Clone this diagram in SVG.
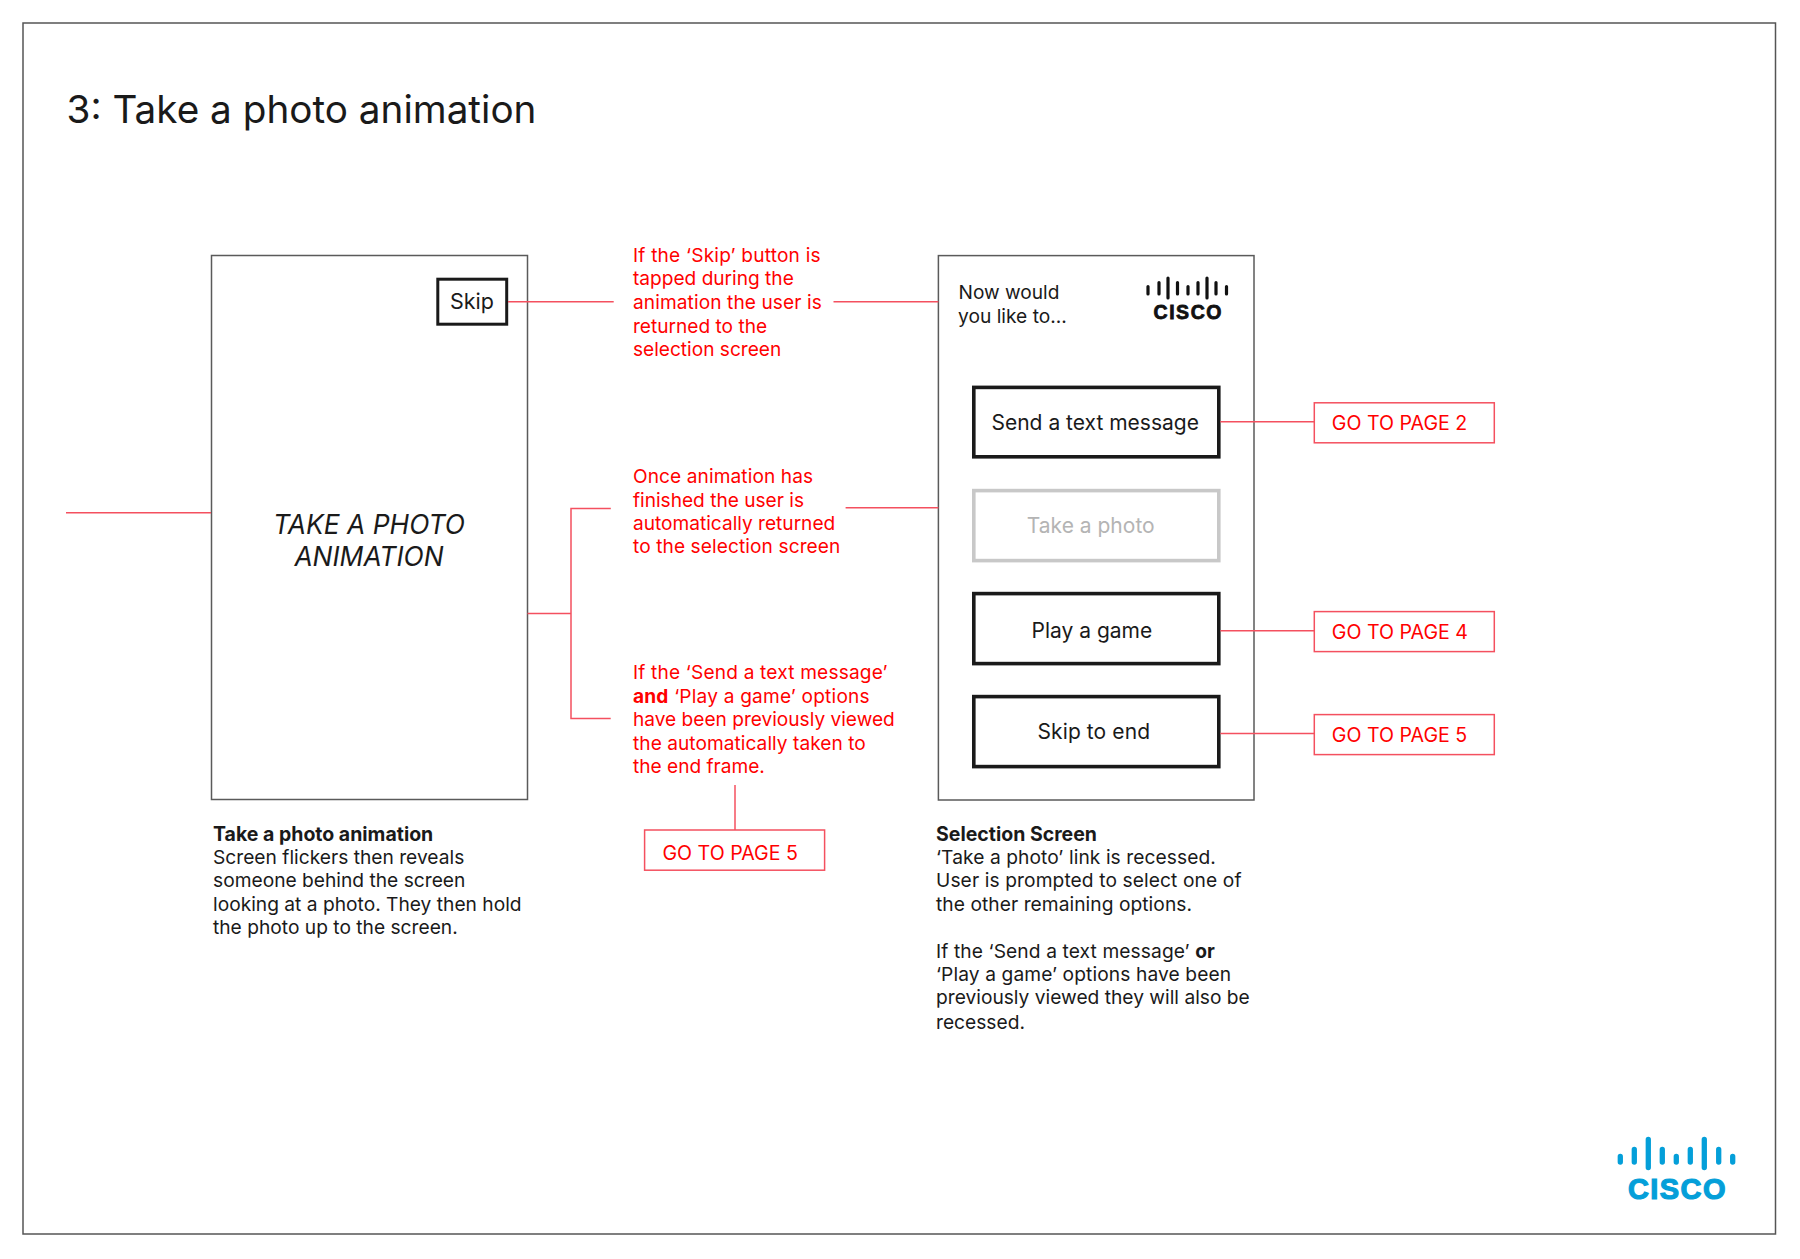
<svg xmlns="http://www.w3.org/2000/svg" width="1800" height="1259" viewBox="0 0 1800 1259">
<style>
text{font-family:"Inter","Liberation Sans",sans-serif;font-size:19.2px;fill:#1a1a1a}
.r{fill:#f00;font-size:19.1px}
.b{font-weight:700}
.h{font-weight:700;font-size:19.5px}
.frame{fill:#fff;stroke:#5a5a5a;stroke-width:1.5}
.btn{fill:#fff;stroke:#1a1a1a;stroke-width:3.6}
.off{fill:#fff;stroke:#c8c8c8;stroke-width:3.6}
.lbl{font-size:21px}
.go{fill:#fff;stroke:#f4505f;stroke-width:1.5}
.gt{fill:#f00;font-size:19.6px}
.c{fill:none;stroke:#f4505f;stroke-width:1.5}
.bar{fill:none;stroke-linecap:round}
.logo{font-family:"Liberation Sans",sans-serif;font-weight:700}
</style>
<rect id="page" x="23" y="23" width="1752.5" height="1211" fill="#fff" stroke="#555" stroke-width="1.5"/>
<text id="title" x="66.5" y="122.5" style="font-size:38.7px">3: Take a photo animation</text>
<g id="animation-screen">
<rect class="frame" x="211.5" y="255.5" width="316" height="544"/>
<text x="369" y="533.5" text-anchor="middle" style="font-style:italic;font-size:26.4px">TAKE A PHOTO</text>
<text x="369" y="565.7" text-anchor="middle" style="font-style:italic;font-size:26.4px">ANIMATION</text>
</g>
<g id="skip">
<rect x="437.8" y="279.2" width="68.9" height="45" fill="#fff" stroke="#1a1a1a" stroke-width="3"/>
<text class="lbl" x="450" y="309.4" style="font-size:21.5px">Skip</text>
</g>
<g id="note-skip">
<text class="r" x="633" y="262" style="letter-spacing:.2px">If the ‘Skip’ button is</text>
<text class="r" x="633" y="285.2">tapped during the</text>
<text class="r" x="633" y="309" style="letter-spacing:.1px">animation the user is</text>
<text class="r" x="633" y="332.5">returned to the</text>
<text class="r" x="633" y="356.3">selection screen</text>
</g>
<g id="note-once">
<text class="r" x="633" y="483" style="letter-spacing:.1px">Once animation has</text>
<text class="r" x="633" y="506.5">finished the user is</text>
<text class="r" x="633" y="530">automatically returned</text>
<text class="r" x="633" y="553.2" style="letter-spacing:.1px">to the selection screen</text>
</g>
<g id="note-send">
<text class="r" x="633" y="679" style="letter-spacing:.18px">If the ‘Send a text message’</text>
<text class="r" x="633" y="702.5" style="letter-spacing:.2px"><tspan class="r b">and</tspan> ‘Play a game’ options</text>
<text class="r" x="633" y="726">have been previously viewed</text>
<text class="r" x="633" y="749.5" style="letter-spacing:.05px">the automatically taken to</text>
<text class="r" x="633" y="773">the end frame.</text>
</g>
<g id="go5-a">
<rect class="go" x="644.6" y="830" width="180" height="40.2"/>
<text class="gt" x="662.5" y="860">GO TO PAGE 5</text>
</g>
<g id="selection-screen">
<rect class="frame" x="938.4" y="255.6" width="315.6" height="544.4"/>
<text x="958.5" y="299" style="font-size:19.1px">Now would</text>
<text x="958" y="323" style="font-size:19.2px">you like to...</text>
<g id="logo-small" class="bar" stroke="#111" stroke-width="3.2">
<path d="M1148 286.5V294M1159 282.5V294M1168 278V298M1177.5 282.5V294M1188 286.5V294M1198 282.5V294M1207 278V298M1216 282.5V294M1226.5 286.5V294"/>
</g>
<text class="logo" x="1153.5" y="318.8" textLength="68" lengthAdjust="spacing" style="font-size:19.5px;fill:#111;stroke:#111;stroke-width:.8">CISCO</text>
</g>
<g id="btn-send">
<rect class="btn" x="973.8" y="387.4" width="245" height="69.4"/>
<text class="lbl" x="991.5" y="429.8">Send a text message</text>
</g>
<g id="btn-photo">
<rect class="off" x="973.8" y="490.6" width="245" height="70"/>
<text class="lbl" x="1026.8" y="533" style="fill:#b4b4b4">Take a photo</text>
</g>
<g id="btn-game">
<rect class="btn" x="973.8" y="593.6" width="245" height="70"/>
<text class="lbl" x="1031.5" y="637.6">Play a game</text>
</g>
<g id="btn-skip">
<rect class="btn" x="973.8" y="696.6" width="245" height="70"/>
<text class="lbl" x="1037.5" y="739.4" style="letter-spacing:.1px">Skip to end</text>
</g>
<g id="go2">
<rect class="go" x="1314.3" y="402.8" width="180" height="40"/>
<text class="gt" x="1331.8" y="430.3">GO TO PAGE 2</text>
</g>
<g id="go4">
<rect class="go" x="1314.3" y="611.6" width="180" height="40"/>
<text class="gt" x="1331.8" y="639.3">GO TO PAGE 4</text>
</g>
<g id="go5-b">
<rect class="go" x="1314.3" y="714.6" width="180" height="40"/>
<text class="gt" x="1331.8" y="742.4">GO TO PAGE 5</text>
</g>
<g id="caption-animation">
<text class="h" x="213" y="840.7">Take a photo animation</text>
<text x="213" y="864">Screen flickers then reveals</text>
<text x="213" y="887.3">someone behind the screen</text>
<text x="213" y="910.7">looking at a photo. They then hold</text>
<text x="213" y="934.4">the photo up to the screen.</text>
</g>
<g id="caption-selection">
<text class="h" x="936" y="840.7">Selection Screen</text>
<text x="936" y="864" style="letter-spacing:.08px">‘Take a photo’ link is recessed.</text>
<text x="936" y="887.3" style="letter-spacing:.1px">User is prompted to select one of</text>
<text x="936" y="910.7" style="letter-spacing:.05px">the other remaining options.</text>
<text x="936" y="957.6" style="letter-spacing:.1px">If the ‘Send a text message’ <tspan class="b">or</tspan></text>
<text x="936" y="981" style="letter-spacing:.1px">‘Play a game’ options have been</text>
<text x="936" y="1004.4">previously viewed they will also be</text>
<text x="936" y="1028.6">recessed.</text>
</g>
<g id="logo-cisco">
<g class="bar" stroke="#049fd9" stroke-width="5.3">
<path d="M1620.3 1156.5V1162M1634.3 1149.5V1162M1648.3 1139.5V1167.5M1662.3 1149.5V1162M1676.3 1156.5V1162M1690.3 1149.5V1162M1704.3 1139.5V1167.5M1718.7 1149.5V1162M1732.7 1156.5V1162"/>
</g>
<text class="logo" x="1628" y="1199.3" textLength="97.5" lengthAdjust="spacing" style="font-size:29px;fill:#049fd9;stroke:#049fd9;stroke-width:1.2">CISCO</text>
</g>
<g id="connectors" class="c">
<path d="M66 512.7H211"/>
<path d="M508 301.7H613.7"/>
<path d="M833.5 301.7H938.4"/>
<path d="M527.5 613.5H571M610.8 508.6H571V718.5H610.7"/>
<path d="M845.6 507.8H938.4"/>
<path d="M1220.4 421.7H1314.3"/>
<path d="M1220.4 630.7H1314.3"/>
<path d="M1220.4 733.6H1314.3"/>
<path d="M735 785V830"/>
</g>
</svg>
